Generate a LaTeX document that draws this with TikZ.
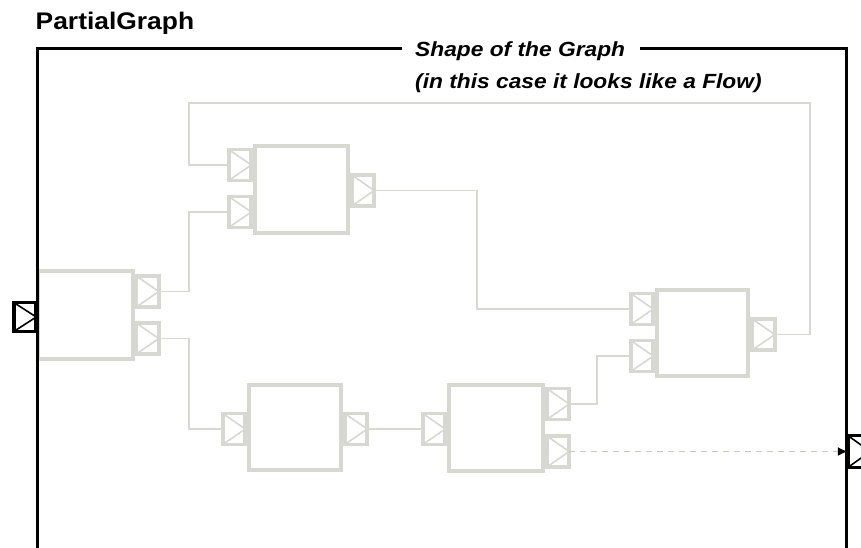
\documentclass[tikz,border=0pt]{standalone}
\usepackage{fontspec}
\usepackage{graphicx}
\setmainfont{Liberation Sans}
\usetikzlibrary{arrows.meta}
\definecolor{wireg}{RGB}{214,216,209}
\definecolor{dashg}{RGB}{198,200,192}
\begin{document}
\begin{tikzpicture}[x=1pt,y=-1pt,
  frame/.style={line width=3pt, black},
  wire/.style={draw=wireg, line width=1.9pt},
  block/.style={rectangle, draw=wireg, line width=4pt, fill=white, inner sep=0pt, outer sep=0pt},
  port/.style={rectangle, draw=#1, line width=3.7pt, fill=white, inner sep=0pt, outer sep=0pt,
    minimum width=22.5pt, minimum height=31pt,
    path picture={\draw[#1, line width=1.6pt]
      (path picture bounding box.north west) -- (path picture bounding box.east)
      -- (path picture bounding box.south west);}},
  port/.default=wireg,
  title/.style={anchor=base west, inner sep=0pt, font=\bfseries\fontsize{24}{28}\selectfont},
  caption/.style={anchor=base west, inner sep=0pt, font=\bfseries\itshape\fontsize{20.5}{24}\selectfont}]
\useasboundingbox (0,0) rectangle (861,547);
\clip (0,0) rectangle (861,547);

% ports of the inner blocks
\node[port] (ao1) at (147.5,291.5) {};
\node[port] (ao2) at (147.5,338.5) {};
\node[port] (bi1) at (240,165) {};
\node[port] (bi2) at (240,212) {};
\node[port] (bo)  at (363,190.5) {};
\node[port] (ei1) at (642,309) {};
\node[port] (ei2) at (642,356) {};
\node[port] (eo)  at (763.5,334.5) {};
\node[port] (di)  at (234,429) {};
\node[port] (do)  at (356,429) {};
\node[port] (gi)  at (434,429) {};
\node[port] (go1) at (558,404) {};
\node[port] (go2) at (558,451.5) {};

% the blocks themselves
\node[block, minimum width=95pt, minimum height=88pt] (A) at (85.5,315) {};
\node[block, minimum width=93pt, minimum height=87pt] (B) at (301.5,189.5) {};
\node[block, minimum width=92pt, minimum height=85pt] (D) at (295,427.5) {};
\node[block, minimum width=94pt, minimum height=86pt] (G) at (496,428) {};
\node[block, minimum width=91pt, minimum height=86pt] (E) at (702.5,333) {};

% wiring between the blocks
\coordinate (loop) at (189,103);
\draw[wire] (ao1.east) -- ++(30,0) |- (bi2.west);
\draw[wire] (ao2.east) -- ++(30,0) |- (di.west);
\draw[wire] (bo.east) -- ++(103,0) |- (ei1.west);
\draw[wire] (do.east) -- (gi.west);
\draw[wire] (go1.east) -- ++(28,0) |- (ei2.west);
\draw[wire] (eo.east) -- ++(35,0) |- (loop) |- (bi1.west);

% outer frame of the partial graph
\coordinate (ftl) at (37,48);
\coordinate (fbl) at (37,552);
\coordinate (ftr) at (846,48);
\coordinate (fbr) at (846,552);
\coordinate (gapl) at (402,48);
\coordinate (gapr) at (640,48);
\draw[frame] (gapl) -- (ftl) -- (fbl);
\draw[frame] (gapr) -- (ftr) -- (fbr);

% inlet and outlet of the graph
\node[port=black, minimum height=29pt] (inlet) at (25,317) {};
\node[port=black, minimum height=32pt] (outlet) at (859,451.5) {};
\draw[draw=dashg, dash pattern=on 6pt off 5pt, line width=1.6pt,
  -{Latex[length=10pt,width=9pt,color=black]}] (go2.east) -- (outlet.west);

% texts
\node[title] (name) at (35.5,29.3) {\scalebox{1.1}[1]{PartialGraph}};
\node[caption] (shape1) at (415,56.7) {\scalebox{1.11}[1]{Shape of the Graph}};
\node[caption] (shape2) at (415,88) {\scalebox{1.11}[1]{(in this case it looks like a Flow)}};
\end{tikzpicture}
\end{document}
